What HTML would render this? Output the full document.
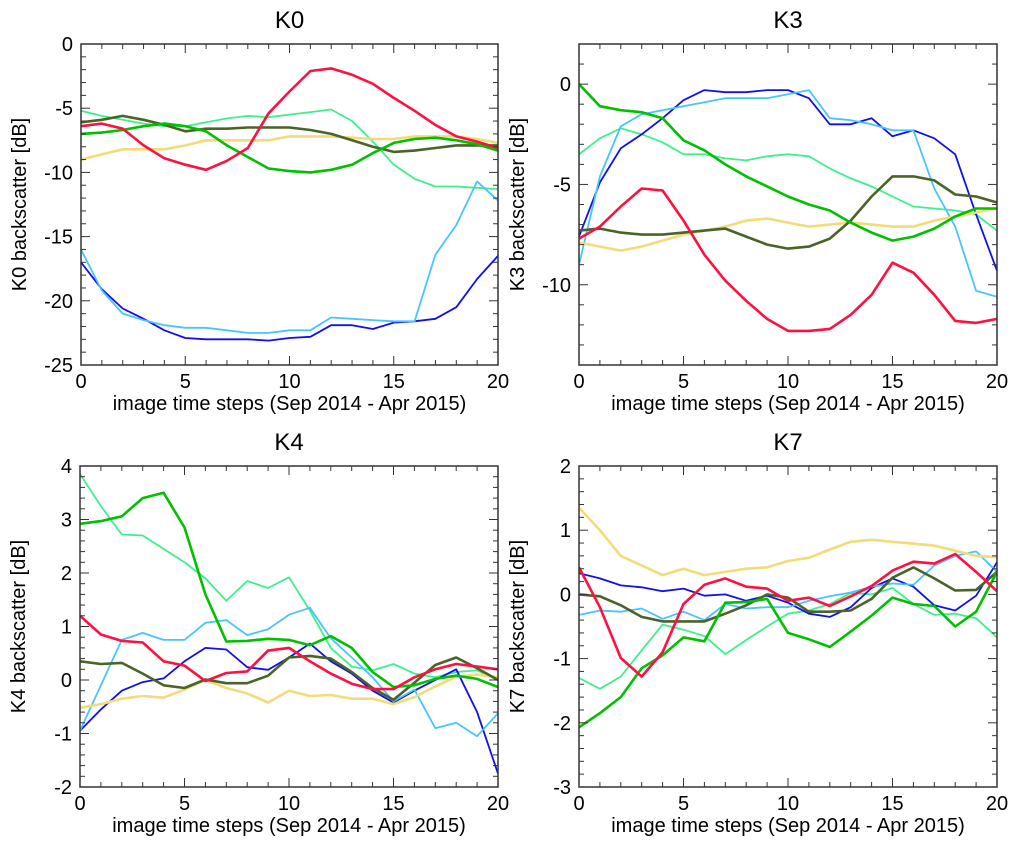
<!DOCTYPE html>
<html><head><meta charset="utf-8"><style>
body{margin:0;background:#fff;}
svg{display:block;font-family:"Liberation Sans",Arial,sans-serif;}
</style></head><body>
<svg id="fig" width="1024" height="847" xmlns="http://www.w3.org/2000/svg"></svg>
<script>
const steps = [0,1,2,3,4,5,6,7,8,9,10,11,12,13,14,15,16,17,18,19,20];
const seriesNames = ["lightgreen","blue","cyan","yellow","olive","green","red"];
const seriesColors = {red:"#ff1040",green:"#00c000",olive:"#4a6428",yellow:"#f3dc78",lightgreen:"#3ef08c",blue:"#1010ee",cyan:"#48c4ff"};
const seriesWidths = {red:2.6,green:2.6,olive:2.6,yellow:2.6,lightgreen:1.8,blue:1.8,cyan:1.8};

const k0Red=[-6.4,-6.2,-6.6,-7.9,-8.9,-9.4,-9.8,-9.1,-8.1,-5.4,-3.7,-2.1,-1.9,-2.4,-3.1,-4.2,-5.2,-6.3,-7.2,-7.6,-8.1];
const k0Green=[-7,-6.9,-6.7,-6.4,-6.2,-6.4,-6.8,-7.9,-8.8,-9.7,-9.9,-10,-9.8,-9.4,-8.5,-7.7,-7.4,-7.3,-7.5,-7.8,-8.3];
const k0Olive=[-6.1,-5.9,-5.6,-5.9,-6.3,-6.8,-6.6,-6.6,-6.5,-6.5,-6.5,-6.7,-7,-7.5,-8,-8.4,-8.3,-8.1,-7.9,-7.9,-7.9];
const k0Yellow=[-9,-8.6,-8.2,-8.2,-8.2,-7.9,-7.5,-7.5,-7.5,-7.5,-7.2,-7.2,-7.2,-7.3,-7.4,-7.4,-7.2,-7.2,-7.2,-7.4,-7.7];
const k0LightGreen=[-5.2,-5.6,-5.9,-6.2,-6.4,-6.4,-6.1,-5.8,-5.6,-5.7,-5.5,-5.3,-5.1,-6,-7.6,-9.4,-10.5,-11.1,-11.1,-11.2,-11.3];
const k0Blue=[-17,-19.1,-20.6,-21.4,-22.3,-22.9,-23,-23,-23,-23.1,-22.9,-22.8,-21.9,-21.9,-22.2,-21.7,-21.6,-21.4,-20.5,-18.3,-16.5];
const k0Cyan=[-16,-19.2,-21,-21.5,-21.9,-22.1,-22.1,-22.3,-22.5,-22.5,-22.3,-22.3,-21.3,-21.4,-21.5,-21.6,-21.6,-16.4,-14.1,-10.7,-12.2];

const k3Red=[-7.7,-7.1,-6.1,-5.2,-5.3,-6.8,-8.5,-9.8,-10.8,-11.7,-12.3,-12.3,-12.2,-11.5,-10.5,-8.9,-9.4,-10.5,-11.8,-11.9,-11.7];
const k3Green=[0,-1.1,-1.3,-1.4,-1.7,-2.8,-3.3,-4,-4.6,-5.1,-5.6,-6,-6.3,-6.9,-7.4,-7.8,-7.6,-7.2,-6.6,-6.2,-6.2];
const k3Olive=[-7.3,-7.2,-7.4,-7.5,-7.5,-7.4,-7.3,-7.2,-7.6,-8,-8.2,-8.1,-7.7,-6.8,-5.6,-4.6,-4.6,-4.8,-5.5,-5.6,-5.9];
const k3Yellow=[-7.9,-8.1,-8.3,-8.1,-7.8,-7.5,-7.3,-7.1,-6.8,-6.7,-6.9,-7.1,-7,-6.9,-7,-7.1,-7.1,-6.8,-6.6,-6.4,-6.2];
const k3LightGreen=[-3.5,-2.7,-2.2,-2.5,-2.9,-3.5,-3.5,-3.7,-3.8,-3.6,-3.5,-3.6,-4.2,-4.7,-5.1,-5.6,-6.1,-6.2,-6.3,-6.5,-7.3];
const k3Blue=[-7.6,-4.9,-3.2,-2.5,-1.7,-0.8,-0.3,-0.4,-0.4,-0.3,-0.3,-0.7,-2,-2,-1.7,-2.6,-2.3,-2.7,-3.5,-6.5,-9.3];
const k3Cyan=[-9,-4.6,-2.1,-1.5,-1.3,-1.1,-0.9,-0.7,-0.7,-0.7,-0.5,-0.3,-1.7,-1.8,-2,-2.3,-2.3,-5.2,-7.1,-10.3,-10.6];

const k4Red=[1.2,0.85,0.73,0.7,0.35,0.27,-0.02,0.13,0.16,0.55,0.6,0.35,0.12,-0.07,-0.17,-0.17,0.05,0.2,0.3,0.25,0.2];
const k4Green=[2.92,2.97,3.06,3.4,3.5,2.85,1.6,0.72,0.73,0.77,0.75,0.65,0.82,0.6,0.15,-0.13,-0.1,0.02,0.08,0.02,-0.13];
const k4Olive=[0.35,0.3,0.32,0.12,-0.1,-0.15,0.01,-0.06,-0.06,0.08,0.42,0.45,0.4,0.15,-0.15,-0.37,-0.05,0.28,0.42,0.22,0];
const k4Yellow=[-0.52,-0.45,-0.35,-0.3,-0.33,-0.18,0,-0.15,-0.25,-0.42,-0.2,-0.3,-0.28,-0.35,-0.35,-0.45,-0.32,-0.12,0.06,0.1,0.05];
const k4LightGreen=[3.85,3.25,2.72,2.7,2.45,2.2,1.9,1.48,1.85,1.72,1.92,1.3,0.6,0.25,0.18,0.3,0.12,0.05,0.15,0.18,0];
const k4Blue=[-0.95,-0.55,-0.2,-0.04,0.03,0.35,0.6,0.57,0.24,0.19,0.42,0.68,0.35,0.12,-0.2,-0.42,-0.2,0,0.2,-0.6,-1.75];
const k4Cyan=[-0.95,-0.1,0.75,0.88,0.75,0.75,1.07,1.12,0.84,0.95,1.22,1.35,0.78,0.42,0.05,-0.4,-0.18,-0.9,-0.8,-1.05,-0.62];

const k7Red=[0.42,-0.2,-0.99,-1.28,-0.9,-0.15,0.15,0.25,0.12,0.09,-0.1,-0.05,-0.18,-0.03,0.13,0.37,0.51,0.48,0.63,0.35,0.05];
const k7Green=[-2.07,-1.85,-1.6,-1.15,-0.95,-0.67,-0.73,-0.13,-0.12,-0.07,-0.6,-0.7,-0.82,-0.58,-0.33,-0.05,-0.15,-0.18,-0.5,-0.27,0.35];
const k7Olive=[0,-0.03,-0.17,-0.35,-0.42,-0.42,-0.42,-0.3,-0.17,0,-0.05,-0.27,-0.27,-0.25,-0.07,0.26,0.42,0.25,0.06,0.07,0.35];
const k7Yellow=[1.35,1,0.6,0.45,0.3,0.4,0.3,0.35,0.4,0.42,0.52,0.57,0.7,0.82,0.85,0.82,0.79,0.76,0.68,0.6,0.58];
const k7LightGreen=[-1.3,-1.47,-1.28,-0.87,-0.47,-0.55,-0.65,-0.93,-0.71,-0.5,-0.3,-0.25,-0.15,0.02,0,0.1,-0.15,-0.32,-0.3,-0.37,-0.67];
const k7Blue=[0.33,0.25,0.14,0.11,0.05,0.09,-0.02,0,-0.1,-0.02,-0.13,-0.3,-0.35,-0.2,0.1,0.25,0.12,-0.17,-0.25,-0.02,0.5];
const k7Cyan=[-0.32,-0.25,-0.27,-0.22,-0.38,-0.27,-0.4,-0.15,-0.22,-0.2,-0.2,-0.1,-0.03,0.03,0.12,0.17,0.15,0.45,0.6,0.67,0.35];

const xTicks=[0,5,10,15,20];
const k0YTicks=[0,-5,-10,-15,-20,-25];
const k3YTicks=[0,-5,-10];
const k4YTicks=[4,3,2,1,0,-1,-2];
const k7YTicks=[2,1,0,-1,-2,-3];

const NS="http://www.w3.org/2000/svg";
const svg=document.getElementById('fig');
function mk(tag,attrs,parent){const e=document.createElementNS(NS,tag);for(const k in attrs)e.setAttribute(k,attrs[k]);(parent||svg).appendChild(e);return e;}

function panel(key,title,box,yMin,yMax,yTicks,yMinorStep,data){
  const g=mk('g',{});
  
  
  const L=box[0],T=box[1],R=box[2],B=box[3];
  const xs=v=>L+(v-0)/(20-0)*(R-L);
  const ys=v=>T+(yMax-v)/(yMax-yMin)*(B-T);
  const clipId='clip'+key;
  const cp=mk('clipPath',{id:clipId},g);mk('rect',{x:L,y:T,width:R-L,height:B-T},cp);
  const lg=mk('g',{'clip-path':'url(#'+clipId+')'},g);
  seriesNames.forEach(n=>{
    const vals=data[n];
    const pts=steps.map((s,i)=>xs(s).toFixed(1)+','+ys(vals[i]).toFixed(1)).join(' ');
    const pl=mk('polyline',{points:pts,fill:'none',stroke:seriesColors[n],'stroke-width':seriesWidths[n],'stroke-linejoin':'round'},lg);
    
    
  });
  const fr=mk('rect',{x:L,y:T,width:R-L,height:B-T,fill:'none',stroke:'#333','stroke-width':1.5},g);
  
  
  for(let s=0;s<=20;s++){
    const len=(s%5===0)?9:5;const x=xs(s);
    mk('line',{x1:x,y1:B,x2:x,y2:B-len,stroke:'#333','stroke-width':1},g);
    mk('line',{x1:x,y1:T,x2:x,y2:T+len,stroke:'#333','stroke-width':1},g);
  }
  xTicks.forEach(t=>{
    const tx=mk('text',{x:xs(t),y:B+23,'text-anchor':'middle','font-size':20,fill:'#000'},g);
    tx.textContent=t;
    
    
  });
  for(let v=yMin;v<=yMax+1e-9;v+=yMinorStep){
    const major=yTicks.some(t=>Math.abs(t-v)<1e-6);const len=major?9:5;const y=ys(v);
    mk('line',{x1:L,y1:y,x2:L+len,y2:y,stroke:'#333','stroke-width':1},g);
    mk('line',{x1:R,y1:y,x2:R-len,y2:y,stroke:'#333','stroke-width':1},g);
  }
  yTicks.forEach(t=>{
    const tx=mk('text',{x:L-8,y:ys(t)+7,'text-anchor':'end','font-size':20,fill:'#000'},g);
    tx.textContent=t;
    
    
  });
  const tt=mk('text',{x:(L+R)/2,y:T-16,'text-anchor':'middle','font-size':24,fill:'#000'},g);
  tt.textContent=title;
  
  
  const xl=mk('text',{x:(L+R)/2,y:B+45,'text-anchor':'middle','font-size':20,fill:'#000'},g);
  xl.textContent='image time steps (Sep 2014 - Apr 2015)';
  
  
  const cx=L-55,cy=(T+B)/2;
  const yl=mk('text',{x:cx,y:cy,'text-anchor':'middle','font-size':20,fill:'#000',transform:'rotate(-90 '+cx+' '+cy+')'},g);
  yl.textContent=title+' backscatter [dB]';
  
  
}

panel('K0','K0',[81,44,498,365],-25,0,k0YTicks,1,{red:k0Red,green:k0Green,olive:k0Olive,yellow:k0Yellow,lightgreen:k0LightGreen,blue:k0Blue,cyan:k0Cyan});
panel('K3','K3',[579,44,997,365],-14,2,k3YTicks,1,{red:k3Red,green:k3Green,olive:k3Olive,yellow:k3Yellow,lightgreen:k3LightGreen,blue:k3Blue,cyan:k3Cyan});
panel('K4','K4',[80,466,498,787],-2,4,k4YTicks,0.2,{red:k4Red,green:k4Green,olive:k4Olive,yellow:k4Yellow,lightgreen:k4LightGreen,blue:k4Blue,cyan:k4Cyan});
panel('K7','K7',[579,466,997,787],-3,2,k7YTicks,0.2,{red:k7Red,green:k7Green,olive:k7Olive,yellow:k7Yellow,lightgreen:k7LightGreen,blue:k7Blue,cyan:k7Cyan});
</script>
</body></html>
